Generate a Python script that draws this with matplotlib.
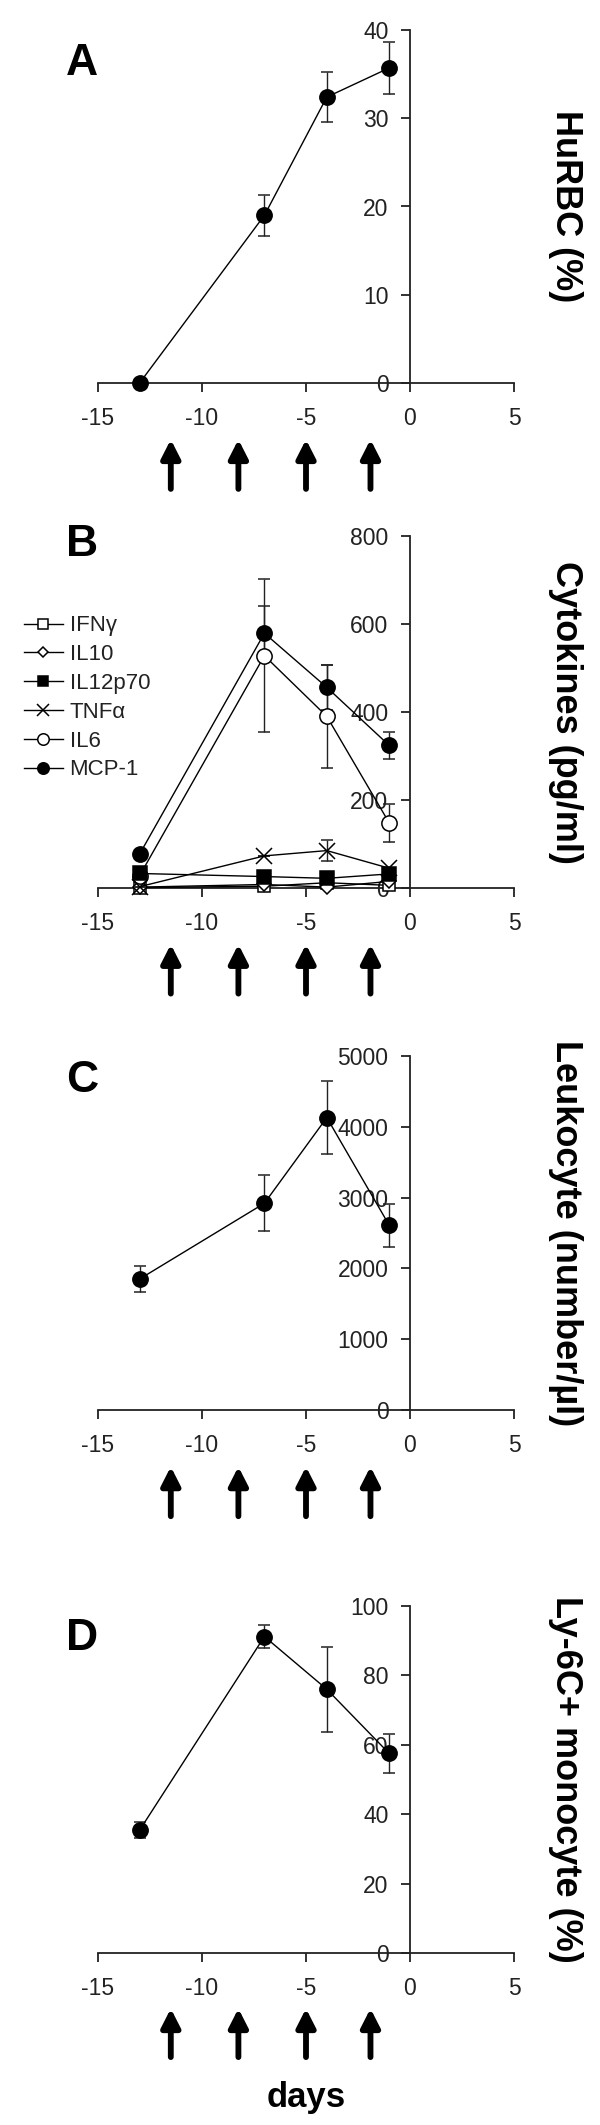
import numpy as np
import matplotlib
matplotlib.use("Agg")
import matplotlib.pyplot as plt
import matplotlib.transforms as mtransforms
from matplotlib.lines import Line2D

plt.rcParams['font.family'] = ['Liberation Sans', 'DejaVu Sans']
plt.rcParams['axes.unicode_minus'] = False

# sampling days and injection days (arrows)
days = [-13, -7, -4, -1]
injection_days = [-11.5, -8.25, -5.0, -1.9]

# A: HuRBC (%)
hurbc = [0, 19.0, 32.4, 35.7]
hurbc_err = [0, 2.3, 2.8, 2.9]

# B: cytokines (pg/ml)
cytokine_names = ["IFNγ", "IL10", "IL12p70", "TNFα", "IL6", "MCP-1"]
ifng = [1, 4, 12, 6]
il10 = [2, 8, 2, 15]
il12p70 = [33, 26, 22, 32]
tnfa = [3, 73, 85, 45]
il6 = [28, 528, 390, 148]
mcp1 = [77, 579, 456, 324]
ifng_err = [0, 0, 0, 0]
il10_err = [0, 0, 0, 0]
il12p70_err = [0, 0, 0, 0]
tnfa_err = [0, 0, 24, 0]
il6_err = [0, 174, 117, 43]
mcp1_err = [6, 61, 51, 30]

# C: leukocytes (number/ul)
leukocyte = [1850, 2920, 4130, 2610]
leukocyte_err = [185, 395, 515, 305]

# D: Ly-6C+ monocytes (%)
ly6c = [35.4, 91.2, 76.0, 57.5]
ly6c_err = [2.3, 3.2, 12.2, 5.6]

INK = '#222222'
W, H = 600, 2125

fig = plt.figure(figsize=(6, 21.25), dpi=100)


def make_axes(top_px, zero_px):
    left, right = 98, 514
    return fig.add_axes([left / W, 1 - zero_px / H, (right - left) / W, (zero_px - top_px) / H])


def style_axes(ax, ymax, ystep, ylabel, letter, letter_y):
    ax.set_xlim(-15, 5)
    ax.set_ylim(0, ymax)
    ax.set_xticks(np.arange(-15, 6, 5))
    ax.set_yticks(np.arange(0, ymax + ystep / 2, ystep))
    ax.spines['top'].set_visible(False)
    ax.spines['right'].set_visible(False)
    ax.spines['left'].set_position(('data', 0))
    for s in ('left', 'bottom'):
        ax.spines[s].set_color(INK)
        ax.spines[s].set_linewidth(1.3)
    ax.tick_params(axis='both', direction='out', length=6.5, width=1.3,
                   color=INK, labelcolor=INK, labelsize=16.5)
    ax.tick_params(axis='x', pad=11)
    ax.tick_params(axis='y', pad=9)
    ax.patch.set_visible(False)
    ax.text(1.125, 0.5, ylabel, transform=ax.transAxes, rotation=270,
            ha='center', va='center', fontsize=26, fontweight='bold')
    ax.text(-0.038, letter_y, letter, transform=ax.transAxes,
            ha='center', va='center', fontsize=32, fontweight='bold')
    trans = mtransforms.blended_transform_factory(ax.transData, ax.transAxes)
    for d in injection_days:
        ax.annotate('', xy=(d, -0.16), xytext=(d, -0.30),
                    xycoords=trans, textcoords=trans, annotation_clip=False,
                    arrowprops=dict(arrowstyle='-|>,head_length=0.55,head_width=0.28',
                                    lw=4.2, color='black', shrinkA=0, shrinkB=0,
                                    mutation_scale=20))


def plot_series(ax, y, err, marker, face, ms=11, z=3):
    ax.errorbar(days, y, yerr=err, color='black', lw=1.0, marker=marker,
                markersize=ms, markerfacecolor=face, markeredgecolor='black',
                markeredgewidth=1.1, ecolor=INK, elinewidth=1.0, capsize=4,
                capthick=1.0, clip_on=False, zorder=z)


# panel A
axA = make_axes(30, 383)
plot_series(axA, hurbc, hurbc_err, 'o', 'black')
style_axes(axA, 40, 10, 'HuRBC (%)', 'A', 0.906)

# panel B
axB = make_axes(536, 888)
b_styles = [('s', 'white', 9), ('D', 'white', 7), ('s', 'black', 10),
            ('x', 'white', 11), ('o', 'white', 11), ('o', 'black', 11)]
b_values = [ifng, il10, il12p70, tnfa, il6, mcp1]
b_errors = [ifng_err, il10_err, il12p70_err, tnfa_err, il6_err, mcp1_err]
b_z = [3.1, 3.2, 3.6, 3.5, 3.45, 3.4]
for (mk, fc, ms), vals, errs, z in zip(b_styles, b_values, b_errors, b_z):
    plot_series(axB, vals, errs, mk, fc, ms=ms, z=z)
style_axes(axB, 800, 200, 'Cytokines (pg/ml)', 'B', 0.975)
handles = [Line2D([], [], color='black', lw=1.0, marker=mk, markersize=ms * 0.75,
                  markerfacecolor=fc, markeredgecolor='black', markeredgewidth=1.1)
           for mk, fc, ms in b_styles]
axB.legend(handles, cytokine_names, loc='center left', bbox_to_anchor=(-0.178, 0.54),
           frameon=False, fontsize=16, borderpad=0, borderaxespad=0,
           handlelength=1.75, handletextpad=0.3, labelspacing=0.35,
           labelcolor=INK)

# panel C
axC = make_axes(1056, 1410)
plot_series(axC, leukocyte, leukocyte_err, 'o', 'black')
style_axes(axC, 5000, 1000, 'Leukocyte (number/µl)', 'C', 0.93)

# panel D
axD = make_axes(1606, 1953)
plot_series(axD, ly6c, ly6c_err, 'o', 'black')
style_axes(axD, 100, 20, 'Ly-6C+ monocyte (%)', 'D', 0.905)

fig.text(306 / W, 1 - 2097 / H, 'days', ha='center', va='center',
         fontsize=25, fontweight='bold')

fig.savefig('out.png', dpi=100)
